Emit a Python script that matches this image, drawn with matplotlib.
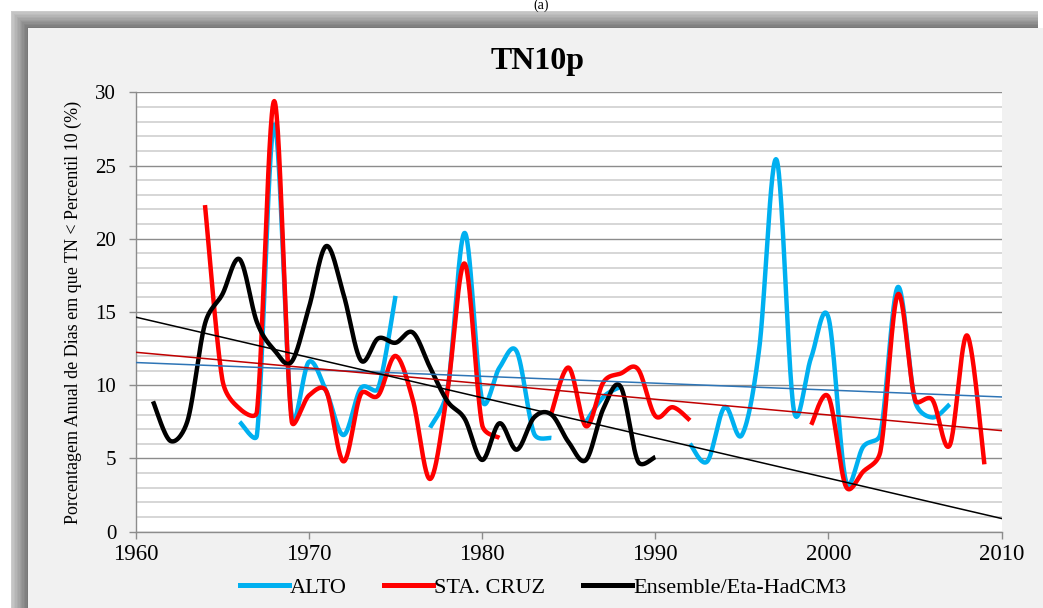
import numpy as np
import matplotlib.pyplot as plt
from matplotlib.patches import Rectangle
from matplotlib.lines import Line2D

plt.rcParams['font.family'] = ['Liberation Serif', 'DejaVu Serif']

nan = np.nan
years = np.arange(1961, 2010)

# annual TN10p (%), one value per year 1961-2009, gaps = missing years
alto = [nan, nan, nan, nan, nan,
        7.5, 6.6, 27.8, 8.0, 11.6,
        9.6, 6.6, 9.8, 9.8, 16.1,
        nan, 7.1, 9.7, 20.4, 9.0,
        11.2, 12.3, 6.7, 6.4, nan,
        7.5, 9.2, 9.9, nan, nan,
        nan, 6.0, 4.8, 8.5, 6.6,
        12.5, 25.4, 8.3, 11.9, 14.6,
        3.5, 5.8, 6.7, 16.7, 8.9,
        7.8, 8.7, nan, nan]

sta_cruz = [nan, nan, nan, 22.3, 10.4,
            8.4, 8.2, 29.4, 7.6, 9.3,
            9.6, 4.8, 9.4, 9.3, 12.0,
            9.0, 3.6, 9.6, 18.3, 7.3,
            6.4, nan, nan, 8.1, 11.2,
            7.2, 10.2, 10.8, 11.1, 7.9,
            8.5, 7.6, nan, nan, nan,
            nan, nan, nan, 7.3, 9.2,
            3.1, 4.1, 5.5, 16.2, 9.0,
            9.0, 5.9, 13.4, 4.6]

ensemble = [8.9, 6.2, 7.6, 14.2, 16.2,
            18.6, 14.3, 12.4, 11.6, 15.3,
            19.5, 16.2, 11.7, 13.2, 12.9,
            13.6, 11.2, 8.9, 7.7, 4.9,
            7.4, 5.6, 7.8, 8.0, 6.1,
            4.9, 8.4, 9.9, 4.8, 5.1] + [nan] * 19

# linear trend lines, value at 1960 and at 2010
trend_years = [1960, 2010]
trend_alto = [11.55, 9.2]
trend_cruz = [12.25, 6.9]
trend_ens = [14.65, 0.9]

labels = ['ALTO', 'STA. CRUZ', 'Ensemble/Eta-HadCM3']
colors = ['#00B0F0', '#FF0000', '#000000']
trend_colors = ['#2E75B6', '#C00000', '#000000']

W, H = 1043, 608
# axes box in pixels (left, right, top, bottom)
AX_L, AX_R, AX_T, AX_B = 135.7, 1001.7, 92.3, 531.7
X_RANGE, Y_RANGE = (1960, 2010), (0, 30)
PX_X = (AX_R - AX_L) / (X_RANGE[1] - X_RANGE[0])
PX_Y = (AX_B - AX_T) / (Y_RANGE[1] - Y_RANGE[0])


def smooth(x, y, n=30):
    # smoothed line as cubic beziers; tangent handles are catmull-rom,
    # shortened next to short segments so the curve doesn't overshoot
    x = np.asarray(x, float)
    y = np.asarray(y, float)
    if len(x) < 2:
        return x, y
    scale = np.array([PX_X, PX_Y])
    pts = np.column_stack([x, y]) * scale
    m = len(pts)
    tang = np.zeros_like(pts)
    for i in range(m):
        a = pts[max(i - 1, 0)]
        b = pts[min(i + 1, m - 1)]
        tang[i] = (b - a) / 6.0

    def handle(i, seg_len):
        t = tang[i]
        L = np.hypot(*t)
        cap = 0.5 * seg_len
        if L > cap and L > 0:
            t = t * cap / L
        return t

    out = [pts[:1]]
    t = np.linspace(0, 1, n)[1:, None]
    for i in range(m - 1):
        p1, p2 = pts[i], pts[i + 1]
        seg = np.hypot(*(p2 - p1))
        c1 = p1 + handle(i, seg)
        c2 = p2 - handle(i + 1, seg)
        curve = ((1 - t) ** 3) * p1 + 3 * ((1 - t) ** 2) * t * c1 \
            + 3 * (1 - t) * t ** 2 * c2 + t ** 3 * p2
        out.append(curve)
    out = np.vstack(out) / scale
    return out[:, 0], out[:, 1]


def plot_smooth(ax, x, y, **kw):
    y = np.asarray(y, float)
    idx = np.where(~np.isnan(y))[0]
    if len(idx) == 0:
        return
    # split into runs of consecutive valid years
    breaks = np.where(np.diff(idx) > 1)[0] + 1
    for run in np.split(idx, breaks):
        sx, sy = smooth(x[run], y[run])
        ax.plot(sx, sy, solid_capstyle='butt', **kw)


fig = plt.figure(figsize=(W / 100, H / 100), dpi=100, facecolor='white')


def fx(px):
    return px / W


def fy(py):
    return 1 - py / H


# drop shadow behind the chart area
shades = np.linspace(0.80, 0.47, 12)
for i, g in enumerate(shades):
    o = 11 + i * 17 / len(shades)
    fig.patches.append(Rectangle((fx(o), 0), fx(1038) - fx(o), fy(o),
                                 transform=fig.transFigure, facecolor=str(g),
                                 edgecolor='none', zorder=-10 + i * 0.01))
fig.patches.append(Rectangle((fx(28), 0), 1 - fx(28), fy(28),
                             transform=fig.transFigure, facecolor='#F1F1F1',
                             edgecolor='none', zorder=-5))

ax = fig.add_axes([fx(AX_L), fy(AX_B), fx(AX_R) - fx(AX_L), fy(AX_T) - fy(AX_B)])
ax.set_facecolor('white')

for series, c in zip([alto, sta_cruz, ensemble], colors):
    plot_smooth(ax, years, series, color=c, lw=3.2, zorder=3)

for tr, c in zip([trend_alto, trend_cruz, trend_ens], trend_colors):
    ax.plot(trend_years, tr, color=c, lw=1.1, zorder=4)

ax.set_xlim(*X_RANGE)
ax.set_ylim(*Y_RANGE)
ax.set_xticks(np.arange(1960, 2011, 10))
ax.set_yticks(np.arange(0, 31, 5))
ax.set_yticks(np.arange(0, 31, 1), minor=True)
ax.grid(which='minor', axis='y', color='#D3D3D3', lw=1.3, zorder=0)
ax.grid(which='major', axis='y', color='#8C8C8C', lw=1.0, zorder=1)
ax.set_axisbelow(True)
for s in ['top', 'right']:
    ax.spines[s].set_visible(False)
for s in ['left', 'bottom']:
    ax.spines[s].set_color('#8C8C8C')
    ax.spines[s].set_linewidth(1.0)
ax.tick_params(axis='y', which='minor', length=0)
ax.tick_params(axis='both', which='major', length=5, color='#8C8C8C', width=1.0)
ax.tick_params(axis='x', labelsize=16.5, pad=4)
ax.tick_params(axis='y', labelsize=15, pad=9)

fig.text(fx(73), fy(312), 'Porcentagem Anual de Dias em que TN < Percentil 10 (%)',
         rotation=90, ha='center', va='center', fontsize=13)
fig.text(fx(538), fy(69), 'TN10p', ha='center', va='baseline',
         fontsize=23, fontweight='bold')
fig.text(fx(541), fy(9), '(a)', ha='center', va='baseline', fontsize=10)

handles = [Line2D([], [], color=c, lw=3.6) for c in colors]
fig.legend(handles, labels, loc='center', bbox_to_anchor=(fx(543), fy(588)),
           ncol=3, frameon=False, fontsize=16, handlelength=2.2,
           handletextpad=0.05, columnspacing=1.7)

fig.savefig('out.png', dpi=100, facecolor='white')
